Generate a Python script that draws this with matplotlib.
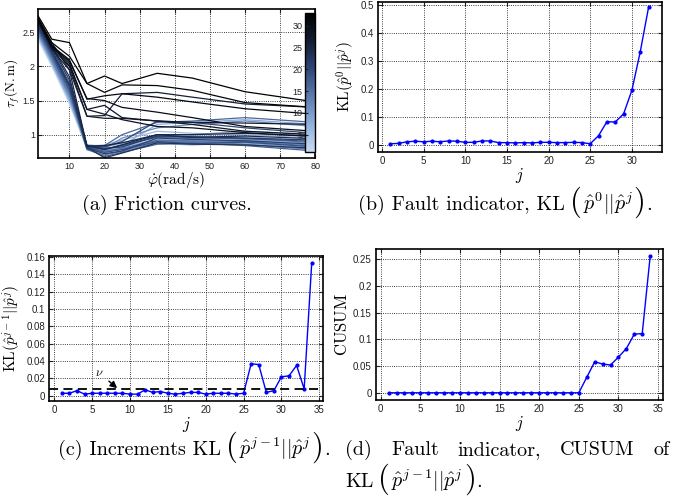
import numpy as np
import matplotlib
matplotlib.use("Agg")
import matplotlib.pyplot as plt
from matplotlib.colors import LinearSegmentedColormap, Normalize
from matplotlib.cm import ScalarMappable

plt.rcParams['mathtext.fontset'] = 'cm'
plt.rcParams['font.family'] = ['Liberation Sans', 'DejaVu Sans']

# ---- (a) friction curves: torque vs speed, one curve per test j ----
speed = [1, 5, 10, 15, 20, 25, 35, 45, 60, 80]
friction = [
    [2.40, 2.00, 1.45, 0.80, 0.78, 0.80, 0.92, 0.90, 0.88, 0.80],
    [2.42, 2.02, 1.48, 0.82, 0.80, 0.83, 0.95, 0.93, 0.92, 0.85],
    [2.45, 2.05, 1.50, 0.78, 0.76, 0.78, 0.90, 0.88, 0.86, 0.78],
    [2.44, 2.03, 1.52, 0.84, 0.82, 0.86, 1.00, 0.98, 0.97, 0.90],
    [2.48, 2.08, 1.55, 0.80, 0.74, 0.80, 0.88, 0.86, 0.90, 0.82],
    [2.46, 2.06, 1.53, 0.83, 0.85, 0.92, 1.05, 1.02, 1.00, 0.95],
    [2.50, 2.10, 1.58, 0.79, 0.77, 0.82, 0.93, 0.95, 0.93, 0.87],
    [2.47, 2.05, 1.50, 0.81, 0.79, 0.84, 1.15, 1.18, 1.22, 1.15],
    [2.52, 2.12, 1.60, 0.82, 0.72, 0.75, 0.87, 0.85, 0.88, 0.80],
    [2.50, 2.08, 1.55, 0.85, 0.83, 0.88, 0.98, 1.00, 1.05, 1.00],
    [2.53, 2.14, 1.62, 0.80, 0.75, 0.79, 0.91, 0.89, 0.92, 0.84],
    [2.49, 2.09, 1.57, 0.84, 0.80, 0.95, 1.10, 1.15, 1.20, 1.12],
    [2.55, 2.15, 1.63, 0.78, 0.70, 0.76, 0.89, 0.90, 0.86, 0.78],
    [2.52, 2.12, 1.60, 0.82, 0.78, 0.85, 0.96, 0.94, 0.95, 0.88],
    [2.56, 2.18, 1.66, 0.80, 0.76, 0.80, 0.92, 0.91, 0.90, 0.83],
    [2.54, 2.15, 1.64, 0.83, 0.84, 1.00, 1.18, 1.20, 1.25, 1.18],
    [2.58, 2.20, 1.70, 0.79, 0.68, 0.74, 0.86, 0.88, 0.84, 0.76],
    [2.56, 2.17, 1.66, 0.81, 0.79, 0.84, 0.97, 0.96, 0.94, 0.90],
    [2.60, 2.22, 1.72, 0.82, 0.74, 0.78, 0.90, 0.87, 0.89, 0.82],
    [2.58, 2.20, 1.70, 0.84, 0.82, 0.90, 1.20, 1.18, 1.10, 1.02],
    [2.62, 2.25, 1.75, 0.80, 0.72, 0.76, 0.95, 0.93, 0.91, 0.86],
    [2.60, 2.22, 1.72, 0.83, 0.80, 0.82, 0.98, 0.97, 0.95, 0.92],
    [2.64, 2.28, 1.80, 0.82, 0.66, 0.73, 0.88, 0.86, 0.85, 0.80],
    [2.65, 2.30, 1.85, 0.84, 0.78, 0.85, 1.00, 0.96, 0.98, 0.94],
    [2.70, 2.35, 1.95, 0.83, 0.84, 0.88, 1.00, 1.00, 1.02, 0.98],
    [2.66, 2.25, 1.95, 1.27, 1.28, 1.60, 1.62, 1.55, 1.45, 1.40],
    [2.68, 2.27, 2.00, 1.27, 1.24, 1.24, 1.20, 1.18, 1.17, 1.15],
    [2.70, 2.30, 2.02, 1.37, 1.43, 1.25, 1.20, 1.15, 1.05, 1.00],
    [2.72, 2.32, 2.05, 1.37, 1.30, 1.22, 1.12, 1.10, 1.03, 0.97],
    [2.68, 2.28, 2.08, 1.53, 1.50, 1.40, 1.33, 1.25, 1.12, 1.05],
    [2.70, 2.30, 2.10, 1.52, 1.57, 1.60, 1.55, 1.48, 1.38, 1.30],
    [2.72, 2.35, 2.15, 1.75, 1.62, 1.73, 1.72, 1.65, 1.47, 1.40],
    [2.75, 2.40, 2.35, 1.75, 1.86, 1.75, 1.90, 1.83, 1.63, 1.48],
]

# ---- (b) KL(p0 || pj) ----
j_b = list(range(1, 33))
kl0 = [0.003, 0.004, 0.010, 0.012, 0.010, 0.012, 0.010, 0.013, 0.012, 0.008,
       0.008, 0.013, 0.013, 0.007, 0.007, 0.006, 0.007, 0.006, 0.008, 0.008,
       0.007, 0.007, 0.008, 0.007, 0.003, 0.032, 0.082, 0.081, 0.110, 0.195,
       0.333, 0.493]

# ---- (c) increments KL(p^{j-1} || p^j) ----
j_c = list(range(1, 35))
kl_inc = [0.003, 0.003, 0.006, 0.002, 0.003, 0.003, 0.003, 0.003, 0.003, 0.002,
          0.002, 0.007, 0.004, 0.005, 0.003, 0.002, 0.003, 0.004, 0.004, 0.002,
          0.003, 0.003, 0.003, 0.002, 0.003, 0.037, 0.036, 0.004, 0.006, 0.022,
          0.023, 0.035, 0.008, 0.153]
nu = 0.0078

# ---- (d) CUSUM ----
j_d = list(range(1, 35))
cusum = [0.0] * 25 + [0.029, 0.058, 0.054, 0.052, 0.067, 0.083, 0.110, 0.111, 0.256]

W, H = 675, 497
fig = plt.figure(figsize=(6.75, 4.97), dpi=100)

def style(ax, size=7):
    ax.grid(True, color='k', linestyle=':', linewidth=0.6)
    ax.tick_params(direction='in', labelsize=size, length=3, colors='#222222',
                   top=True, right=True, pad=3)
    for s in ax.spines.values():
        s.set_linewidth(1.2)

cmap = LinearSegmentedColormap.from_list(
    'fric', ['#c8dcf2', '#8fb0dc', '#5c7bae', '#2e4677', '#121c33', '#000000'])
norm = Normalize(vmin=1, vmax=33)

ax_a = fig.add_axes([0.056, 0.682, 0.411, 0.300])
for k, curve in enumerate(friction):
    ax_a.plot(speed, curve, color=cmap(norm(k + 1)), linewidth=0.9)
ax_a.set_xlim(1, 80)
ax_a.set_ylim(0.657, 2.844)
ax_a.set_xticks([10, 20, 30, 40, 50, 60, 70, 80])
ax_a.set_yticks([1, 1.5, 2, 2.5])
ax_a.set_yticklabels(['1', '1.5', '2', '2.5'])
style(ax_a, 6.5)
ax_a.tick_params(axis='y', pad=2)
ax_a.set_xlabel(r'$\dot{\varphi}(\mathrm{rad/s})$', fontsize=11, labelpad=-1)
ax_a.set_ylabel(r'$\tau_f(\mathrm{N.m})$', fontsize=9.5)
ax_a.yaxis.set_label_coords(-0.058, 0.5)

cax = ax_a.inset_axes([0.963, 0.04, 0.035, 0.935])
cb = fig.colorbar(ScalarMappable(norm=norm, cmap=cmap), cax=cax)
cb.set_ticks([5, 10, 15, 20, 25, 30])
cax.yaxis.set_ticks_position('left')
cax.tick_params(labelsize=6.5, direction='in', length=2, colors='#222222', pad=2)
cb.outline.set_linewidth(1.0)

ax_b = fig.add_axes([0.5596, 0.694, 0.421, 0.302])
ax_b.plot(j_b, kl0, color='b', marker='.', markersize=4, linewidth=1.0)
ax_b.set_xlim(-0.5, 33.6)
ax_b.set_ylim(-0.027, 0.512)
ax_b.set_xticks([0, 5, 10, 15, 20, 25, 30])
ax_b.set_yticks([0, 0.1, 0.2, 0.3, 0.4, 0.5])
ax_b.set_yticklabels(['0', '0.1', '0.2', '0.3', '0.4', '0.5'])
style(ax_b)
ax_b.set_xlabel(r'$j$', fontsize=12, labelpad=0)
ax_b.set_ylabel(r'$\mathrm{KL}(\hat{p}^0||\hat{p}^j)$', fontsize=11, labelpad=2)

ax_c = fig.add_axes([0.073, 0.193, 0.406, 0.292])
ax_c.plot(j_c, kl_inc, color='b', marker='.', markersize=4, linewidth=1.0)
ax_c.axhline(nu, color='k', linestyle='--', linewidth=1.3, dashes=(5, 3))
ax_c.annotate(r'$\nu$', xy=(8.3, 0.0088), xytext=(6.0, 0.026),
              fontsize=9, ha='center', va='center',
              arrowprops=dict(arrowstyle='-|>', color='k', lw=1.0,
                              shrinkA=2, shrinkB=0, mutation_scale=10))
ax_c.set_xlim(-0.66, 35.53)
ax_c.set_ylim(-0.006, 0.161)
ax_c.set_xticks([0, 5, 10, 15, 20, 25, 30, 35])
ax_c.set_yticks([0, 0.02, 0.04, 0.06, 0.08, 0.1, 0.12, 0.14, 0.16])
ax_c.set_yticklabels(['0', '0.02', '0.04', '0.06', '0.08', '0.1', '0.12', '0.14', '0.16'])
style(ax_c)
ax_c.set_xlabel(r'$j$', fontsize=12, labelpad=0)
ax_c.set_ylabel(r'$\mathrm{KL}(\hat{p}^{j-1}||\hat{p}^j)$', fontsize=11, labelpad=2)

ax_d = fig.add_axes([0.557, 0.195, 0.425, 0.303])
ax_d.plot(j_d, cusum, color='b', marker='.', markersize=4, linewidth=1.0)
ax_d.set_xlim(-0.59, 35.6)
ax_d.set_ylim(-0.0137, 0.2687)
ax_d.set_xticks([0, 5, 10, 15, 20, 25, 30, 35])
ax_d.set_yticks([0, 0.05, 0.1, 0.15, 0.2, 0.25])
ax_d.set_yticklabels(['0', '0.05', '0.1', '0.15', '0.2', '0.25'])
style(ax_d)
ax_d.set_xlabel(r'$j$', fontsize=12, labelpad=0)
ax_d.set_ylabel(r'$\mathrm{CUSUM}$', fontsize=12, labelpad=2)

# ---- captions: pieces laid out left to right (big parentheses are separate texts) ----
CAP = 14.5
BIG = 22
renderer = fig.canvas.get_renderer()

def row(pieces, x, y, align='left'):
    """pieces: (text, fontsize, gap_before_px). y is the baseline in pixels from top."""
    objs = []
    for s, size, gap in pieces:
        t = fig.text(0, 0, s, fontsize=size, family='cmr10', va='baseline', ha='left')
        objs.append((t, gap, t.get_window_extent(renderer).width))
    total = sum(g + w for _, g, w in objs)
    cur = x - total / 2 if align == 'center' else x
    for t, g, w in objs:
        cur += g
        t.set_position((cur / W, 1 - y / H))
        cur += w

def justify(words, x0, x1, y):
    objs = []
    for s in words:
        t = fig.text(0, 0, s, fontsize=CAP, family='cmr10', va='baseline', ha='left')
        objs.append((t, t.get_window_extent(renderer).width))
    gap = (x1 - x0 - sum(w for _, w in objs)) / (len(objs) - 1)
    cur = x0
    for t, w in objs:
        t.set_position((cur / W, 1 - y / H))
        cur += w + gap

def kl_pieces(prefix, sup):
    return [(prefix, CAP, 0), ('(', BIG, 5),
            (r'$\hat{p}^{%s}||\hat{p}^{j}$' % sup, CAP, 1),
            (')', BIG, 1), ('.', CAP, 1)]

row([('(a)', CAP, 0), ('Friction curves.', CAP, 6)], 167, 210, 'center')
row(kl_pieces('(b) Fault indicator, KL', '0'), 505, 210, 'center')
row(kl_pieces('(c) Increments KL', 'j-1'), 194, 455, 'center')
justify(['(d)', 'Fault', 'indicator,', 'CUSUM', 'of'], 345, 670, 455)
row(kl_pieces('KL', 'j-1'), 345, 487, 'left')

fig.savefig('out.png', dpi=100)
